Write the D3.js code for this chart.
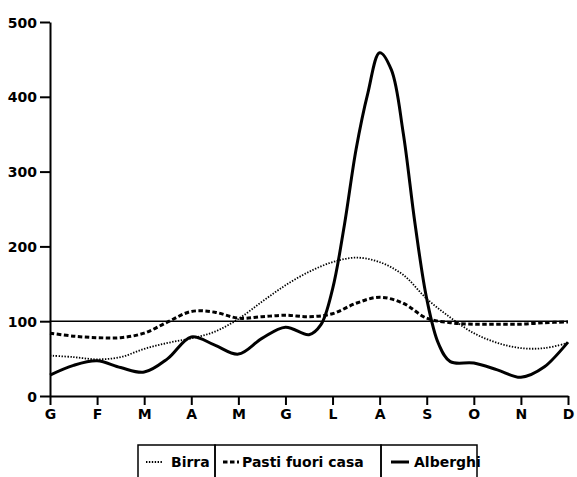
<!DOCTYPE html>
<html>
<head>
<meta charset="utf-8">
<script src="https://cdn.jsdelivr.net/npm/d3@7"></script>
<style>
  html, body { margin: 0; padding: 0; background: #fff; }
  svg { display: block; }
  text { font-family: "DejaVu Sans", sans-serif; font-weight: bold; font-size: 14px; fill: #000; }
</style>
</head>
<body>
<svg width="577" height="477"></svg>
<script>
// month initials (Italian); sample positions are in month units (0 = G ... 11 = D)
const months = ["G", "F", "M", "A", "M", "G", "L", "A", "S", "O", "N", "D"];
const samplePos = [0, 0.5, 1, 1.5, 2, 2.5, 3, 3.5, 4, 4.5, 5, 5.5,
                   6, 6.5, 7, 7.5, 8, 8.5, 9, 9.5, 10, 10.5, 11];
// the hotel curve is read more finely around the August peak
const albPos = [0, 0.5, 1, 1.5, 2, 2.5, 3, 3.5, 4, 4.5, 5, 5.5,
                5.75, 6, 6.25, 6.5, 6.75, 7, 7.25, 7.5, 7.75, 8, 8.25, 8.5,
                9, 9.5, 10, 10.5, 11];
const yTicks = [0, 100, 200, 300, 400, 500];
const refLevel = 100;

const birra = [54, 52, 49, 52, 63, 71, 77, 86, 103, 126, 148, 166,
               179, 185, 179, 162, 130, 105, 84, 71, 64, 64, 71];
const pasti = [84, 80, 78, 78, 84, 99, 113, 112, 104, 106, 108, 106,
               110, 124, 132, 124, 104, 98, 96, 96, 96, 98, 99];
const alberghi = [28, 41, 47, 38, 32, 50, 79, 68, 56, 77, 92, 82,
                  95, 143, 228, 330, 405, 459, 436, 352, 231, 130, 70, 46,
                  44, 35, 25, 39, 72];

const series = [
    { name: "Birra", pos: samplePos, values: birra, width: 1.8, dash: "1.4,1.5" },
    { name: "Pasti fuori casa", pos: samplePos, values: pasti, width: 3, dash: "4.5,2.5" },
    { name: "Alberghi", pos: albPos, values: alberghi, width: 3, dash: null }
];

const svg = d3.select("svg");
const plotLeft = 50, plotRight = 568, plotTop = 22, plotBottom = 396;

const x = d3.scaleLinear().domain([0, months.length - 1]).range([plotLeft, plotRight]);
const y = d3.scaleLinear().domain([0, 500]).range([plotBottom, plotTop]);

// y axis
const yAxis = svg.append("g")
    .attr("transform", `translate(${plotLeft},0)`)
    .call(d3.axisLeft(y).tickValues(yTicks).tickSize(10).tickSizeOuter(0).tickPadding(3));
yAxis.selectAll("path, line").attr("stroke", "#000").attr("stroke-width", 2);
yAxis.selectAll("text").attr("font-size", 14).attr("font-family", "DejaVu Sans").attr("dy", "0.36em");

// x axis
const xAxis = svg.append("g")
    .attr("transform", `translate(0,${plotBottom})`)
    .call(d3.axisBottom(x).tickValues(d3.range(months.length))
        .tickFormat(i => months[i]).tickSize(9).tickSizeOuter(0).tickPadding(4));
xAxis.selectAll("path, line").attr("stroke", "#000").attr("stroke-width", 2);
xAxis.selectAll("text").attr("font-size", 14).attr("font-family", "DejaVu Sans");

// reference line at 100
svg.append("line")
    .attr("x1", x(0)).attr("x2", x(months.length - 1))
    .attr("y1", y(refLevel)).attr("y2", y(refLevel))
    .attr("stroke", "#000").attr("stroke-width", 1.5);

svg.append("g").selectAll("path")
    .data(series)
    .enter().append("path")
    .attr("d", s => d3.line()
        .x((d, i) => x(s.pos[i]))
        .y(d => y(d))
        .curve(d3.curveCatmullRom.alpha(0.5))(s.values))
    .attr("fill", "none")
    .attr("stroke", "#000")
    .attr("stroke-width", d => d.width)
    .attr("stroke-dasharray", d => d.dash)
    .attr("stroke-linejoin", "round");

// legend box
const legend = svg.append("g");
const cells = [
    { x0: 138, x1: 215, sx: 146, sw: 17, tx: 171 },
    { x0: 215, x1: 381, sx: 223, sw: 16, tx: 242 },
    { x0: 381, x1: 477, sx: 391, sw: 18, tx: 414 }
];
legend.selectAll("rect")
    .data(cells)
    .enter().append("rect")
    .attr("x", d => d.x0).attr("y", 445)
    .attr("width", d => d.x1 - d.x0).attr("height", 45)
    .attr("fill", "none").attr("stroke", "#000").attr("stroke-width", 1.5);
legend.selectAll("line")
    .data(cells)
    .enter().append("line")
    .attr("x1", d => d.sx).attr("x2", d => d.sx + d.sw)
    .attr("y1", 462).attr("y2", 462)
    .attr("stroke", "#000")
    .attr("stroke-width", (d, i) => series[i].width)
    .attr("stroke-dasharray", (d, i) => series[i].dash);
legend.selectAll("text")
    .data(cells)
    .enter().append("text")
    .attr("x", d => d.tx).attr("y", 467)
    .attr("font-size", 13.5)
    .text((d, i) => series[i].name);
</script>
</body>
</html>
